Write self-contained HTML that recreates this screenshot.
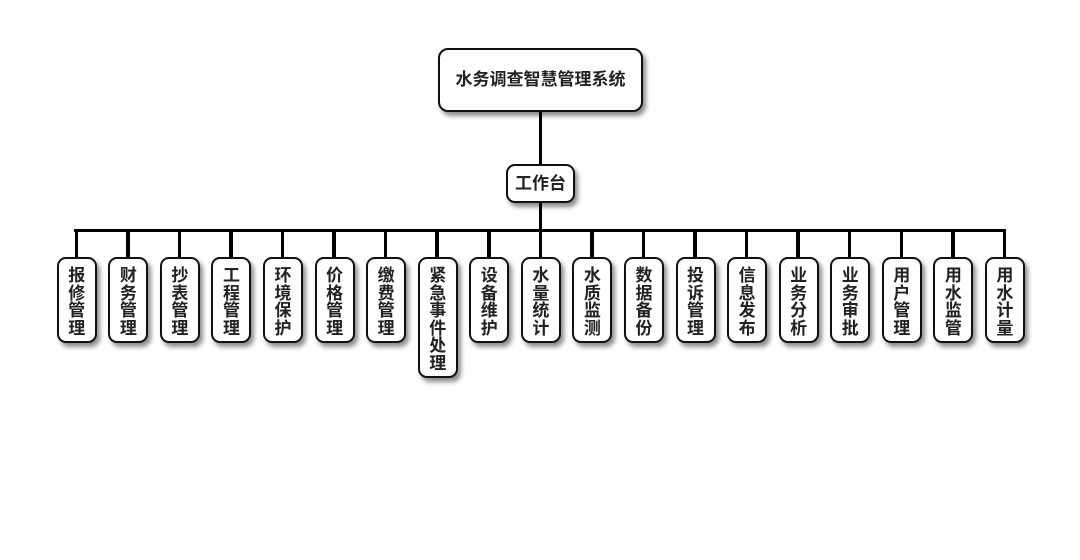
<!DOCTYPE html>
<html><head><meta charset="utf-8">
<style>
html,body{margin:0;padding:0;background:#fff;}
body{width:1080px;height:560px;position:relative;overflow:hidden;font-family:"Liberation Sans","Noto Sans CJK SC",sans-serif;}
.box{position:absolute;box-sizing:border-box;border:2px solid #111;background:#fff;box-shadow:3px 4px 5px rgba(0,0,0,0.45);color:#222;font-weight:bold;text-align:center;}
.line{position:absolute;background:#000;}
.leaf{width:40px;border-radius:9px;font-size:17px;line-height:17.5px;padding-top:8px;top:257px;}
</style></head><body>
<div class="line" style="left:538.5px;top:110px;width:3.5px;height:56px;"></div>
<div class="line" style="left:538.5px;top:200px;width:3.5px;height:31px;"></div>
<div class="line" style="left:74px;top:228.5px;width:932px;height:3.5px;"></div>
<div id="v"></div>
<div class="box" style="left:438px;top:48px;width:205px;height:64px;border-radius:10px;font-size:17px;line-height:60px;">水务调查智慧管理系统</div>
<div class="box" style="left:506px;top:164px;width:69px;height:39px;border-radius:9px;font-size:17px;line-height:35px;">工作台</div>
<div id="leaves"></div>
<script>
var names=["报修管理","财务管理","抄表管理","工程管理","环境保护","价格管理","缴费管理","紧急事件处理","设备维护","水量统计","水质监测","数据备份","投诉管理","信息发布","业务分析","业务审批","用户管理","用水监管","用水计量"];
var h="";
for(var i=0;i<names.length;i++){
 var c=76.3+i*51.56;
 h+='<div class="line" style="left:'+(c-1.75)+'px;top:230px;width:3.5px;height:28px;"></div>';
 var n=names[i].length;
 var ht=n*17.5+16;
 h+='<div class="box leaf" style="left:'+(c-19.5)+'px;height:'+ht+'px;">'+names[i].split("").join("<br>")+'</div>';
}
document.getElementById("leaves").innerHTML=h;
</script>
</body></html>
